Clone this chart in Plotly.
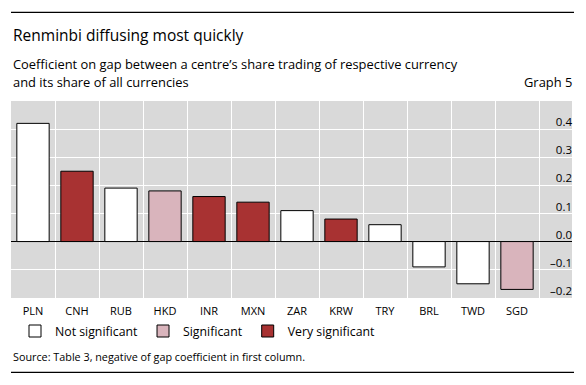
import plotly.graph_objects as go

currencies = ["PLN", "CNH", "RUB", "HKD", "INR", "MXN", "ZAR", "KRW", "TRY", "BRL", "TWD", "SGD"]
values = [0.42, 0.25, 0.19, 0.18, 0.16, 0.14, 0.11, 0.08, 0.06, -0.09, -0.15, -0.17]
significance = ["Not significant", "Very significant", "Not significant", "Significant",
                "Very significant", "Very significant", "Not significant", "Very significant",
                "Not significant", "Not significant", "Not significant", "Significant"]
groups = ["Not significant", "Significant", "Very significant"]
group_colors = {"Not significant": "#ffffff", "Significant": "#d9b4bc", "Very significant": "#a83232"}
y_tick_values = [-0.2, -0.1, 0.0, 0.1, 0.2, 0.3, 0.4]
y_tick_labels = ["\u20130.2", "\u20130.1", "0.0", "0.1", "0.2", "0.3", "0.4"]

title = "Renminbi diffusing most quickly"
subtitle_1 = "Coefficient on gap between a centre\u2019s share trading of respective currency"
subtitle_2 = "and its share of all currencies"
graph_no = "Graph 5"
source = "Source: Table 3, negative of gap coefficient in first column."

FONT = "Open Sans"

fig = go.Figure()
for g in groups:
    xs = [c for c, s in zip(currencies, significance) if s == g]
    ys = [v for v, s in zip(values, significance) if s == g]
    fig.add_trace(go.Bar(
        x=xs, y=ys, name=g, width=0.735,
        marker=dict(color=group_colors[g], line=dict(color="black", width=1)),
    ))

# value-axis labels as a text trace at the right edge of the plot, on the y scale
fig.add_trace(go.Scatter(
    x=[1] * len(y_tick_values), y=y_tick_values, text=y_tick_labels,
    mode="text", textposition="top left", xaxis="x2", yaxis="y",
    textfont=dict(size=11.5, family=FONT, color="black"),
    cliponaxis=False, showlegend=False, hoverinfo="skip",
))

# page body has an 8px default margin; the figure is laid out relative to that
OFF = 8
W, H = 570, 369
ml = 11 - OFF
mr = W - (572 - OFF)
mt = 101 - OFF
mb = H - (298 - OFF)
ph = H - mt - mb
pw = W - ml - mr


def py(pix):
    return (H - mb - (pix - OFF)) / ph


def px(pix):
    return (pix - OFF - ml) / pw


fig.update_layout(
    width=W, height=H,
    margin=dict(l=ml, r=mr, t=mt, b=mb, pad=0),
    paper_bgcolor="white", plot_bgcolor="#d9d9d9",
    barmode="overlay",
    font=dict(family=FONT, color="black", size=12),
    showlegend=True,
    legend=dict(orientation="h", x=px(15), y=py(331), xanchor="left", yanchor="middle",
                font=dict(size=12.3, family=FONT), bgcolor="rgba(0,0,0,0)",
                traceorder="normal", itemclick=False),
    xaxis=dict(type="category", categoryorder="array", categoryarray=currencies,
               range=[-0.5, 12.25], tickson="boundaries", showgrid=True,
               gridcolor="white", gridwidth=1, ticks="", showline=False,
               ticklabelstandoff=5,
               tickfont=dict(size=11, family=FONT), fixedrange=True),
    xaxis2=dict(overlaying="x", range=[0, 1], visible=False, fixedrange=True),
    yaxis=dict(range=[-0.2005, 0.4995], tickmode="array", tickvals=y_tick_values,
               showticklabels=False, side="right",
               ticks="", showgrid=True, gridcolor="white", gridwidth=1,
               zeroline=True, zerolinecolor="black", zerolinewidth=1.2,
               showline=False, fixedrange=True),
)

annotations = [
    dict(text=title, x=0, y=py(35), xanchor="left", yanchor="middle",
         font=dict(size=15.5, family=FONT)),
    dict(text=subtitle_1, x=0, y=py(64), xanchor="left", yanchor="middle",
         font=dict(size=12.9, family=FONT)),
    dict(text=subtitle_2, x=0, y=py(82), xanchor="left", yanchor="middle",
         font=dict(size=12.9, family=FONT)),
    dict(text=graph_no, x=px(574), y=py(82), xanchor="right", yanchor="middle",
         font=dict(size=12.9, family=FONT)),
    dict(text=source, x=0, y=py(356.5), xanchor="left", yanchor="middle",
         font=dict(size=10.8, family=FONT)),
]
for a in annotations:
    a.update(xref="paper", yref="paper", showarrow=False)
fig.update_layout(annotations=annotations)

fig.add_shape(type="line", xref="paper", yref="paper", x0=0, x1=px(574), y0=py(12.3), y1=py(12.3),
              line=dict(color="black", width=1.2))
fig.add_shape(type="line", xref="paper", yref="paper", x0=0, x1=px(574), y0=py(372.3), y1=py(372.3),
              line=dict(color="black", width=1.2))

fig.write_html("out.html")
